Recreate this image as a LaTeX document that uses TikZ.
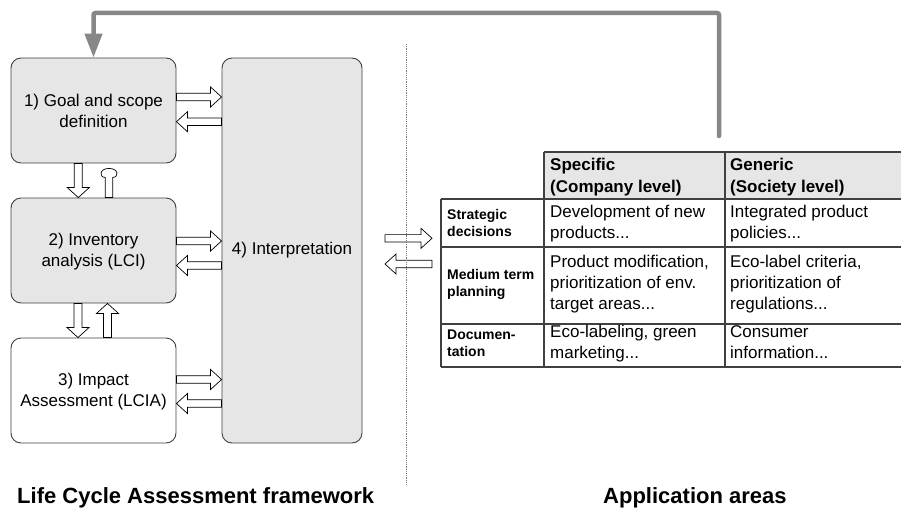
\documentclass[tikz,border=0pt]{standalone}
\usepackage{fontspec}
\setmainfont{Liberation Sans}
\usetikzlibrary{arrows.meta,calc}
\definecolor{boxfill}{HTML}{E6E6E6}
\definecolor{boxline}{HTML}{404040}
\definecolor{fbgray}{HTML}{878787}
\definecolor{dotgray}{HTML}{7A7A7A}
\tikzset{
  stage/.style={draw=boxline, line width=0.9pt, rounded corners=10pt, fill=boxfill,
    minimum width=165pt, minimum height=105pt, align=center,
    font=\fontsize{17}{21}\selectfont, inner sep=0pt},
  blk/.style={draw=black, line width=0.7pt, fill=white, line join=miter},
  cell/.style={anchor=north west, inner sep=0pt, align=left, font=\fontsize{17}{21}\selectfont},
  hcell/.style={cell, font=\bfseries\fontsize{17}{22}\selectfont},
  rcell/.style={cell, font=\bfseries\fontsize{14}{17}\selectfont},
  grid/.style={draw=boxline, line width=1.1pt},
  titletext/.style={anchor=base west, inner sep=0pt, font=\bfseries\fontsize{22}{26}\selectfont},
  fbline/.style={draw=fbgray, line width=4.5pt, line cap=round, rounded corners=2pt,
    -{Triangle[length=24pt,width=17pt]}},
  dotline/.style={draw=dotgray, line width=1pt, dash pattern=on 1.2pt off 1pt},
}
\newcommand{\rblk}[2]{%
  \draw[blk] let \p1=#1, \p2=#2 in (\x1,\y1+3.7pt) -- (\x2-11pt,\y1+3.7pt) -- (\x2-11pt,\y1+10pt)
    -- (\x2,\y1) -- (\x2-11pt,\y1-10pt) -- (\x2-11pt,\y1-3.7pt) -- (\x1,\y1-3.7pt) -- cycle;}
\newcommand{\lblk}[2]{%
  \draw[blk] let \p1=#1, \p2=#2 in (\x1,\y1+3.7pt) -- (\x2+11pt,\y1+3.7pt) -- (\x2+11pt,\y1+10pt)
    -- (\x2,\y1) -- (\x2+11pt,\y1-10pt) -- (\x2+11pt,\y1-3.7pt) -- (\x1,\y1-3.7pt) -- cycle;}
\newcommand{\dblk}[2]{%
  \draw[blk] let \p1=#1, \p2=#2 in (\x1-4pt,\y1) -- (\x1-4pt,\y2+10pt) -- (\x1-11pt,\y2+10pt)
    -- (\x1,\y2) -- (\x1+11pt,\y2+10pt) -- (\x1+4pt,\y2+10pt) -- (\x1+4pt,\y1) -- cycle;}
\newcommand{\ublk}[2]{%
  \draw[blk] let \p1=#1, \p2=#2 in (\x1-4pt,\y1) -- (\x1-4pt,\y2-10pt) -- (\x1-11pt,\y2-10pt)
    -- (\x1,\y2) -- (\x1+11pt,\y2-10pt) -- (\x1+4pt,\y2-10pt) -- (\x1+4pt,\y1) -- cycle;}
\begin{document}
\begin{tikzpicture}[x=1pt,y=-1pt]
\useasboundingbox (0,0) rectangle (901,511);

% stages
\node[stage] (b1) at (93.5,110.5) {\strut 1) Goal and scope\\definition\rule[-2.1pt]{0pt}{0pt}};
\node[stage] (b2) at (93.5,250.5) {\strut 2) Inventory\\analysis (LCI)\rule[-2.1pt]{0pt}{0pt}};
\node[stage, fill=white] (b3) at (93.5,390.5) {\strut 3) Impact\\Assessment (LCIA)\rule[-2.1pt]{0pt}{0pt}};
\node[stage, minimum width=140pt, minimum height=385pt] (b4) at (292,250.5) {4) Interpretation};

% block arrows between stages and interpretation
\rblk{(b1.east |- 0,97)}{(b4.west |- 0,97)}
\lblk{(b4.west |- 0,121.7)}{(b1.east |- 0,121.7)}
\rblk{(b2.east |- 0,241)}{(b4.west |- 0,241)}
\lblk{(b4.west |- 0,265.5)}{(b2.east |- 0,265.5)}
\rblk{(b3.east |- 0,379.5)}{(b4.west |- 0,379.5)}
\lblk{(b4.west |- 0,403.5)}{(b3.east |- 0,403.5)}

% vertical arrows
\dblk{(b1.south -| 78.3,0)}{(b2.north -| 78.3,0)}
\draw[blk] let \p1=(b2.north -| 109,0), \p2=(b1.south -| 109,0) in
  (\x1-3.7pt,\y1) -- (\x1-3.7pt,\y2-14pt)
  .. controls (\x1-10pt,\y2-14pt) and (\x1-10pt,\y2-5pt) .. (\x1,\y2-5pt)
  .. controls (\x1+10pt,\y2-5pt) and (\x1+10pt,\y2-14pt) .. (\x1+3.7pt,\y2-14pt)
  -- (\x1+3.7pt,\y1) -- cycle;
\dblk{(b2.south -| 78,0)}{(b3.north -| 78,0)}
\ublk{(b3.north -| 107.5,0)}{(b2.south -| 107.5,0)}

% arrows towards application areas
\coordinate (al1) at (385,238.3);
\coordinate (ar1) at (432,238.3);
\coordinate (al2) at (385,264);
\coordinate (ar2) at (432,264);
\rblk{(al1)}{(ar1)}
\lblk{(ar2)}{(al2)}

% dotted separator
\coordinate (dtop) at (406.5,44);
\coordinate (dbot) at (406.5,485);
\draw[dotline] (dtop) -- (dbot);

% feedback arrow
\coordinate (fbs) at (719,136);
\draw[fbline] (fbs) -- (719,13) -- (b1.north |- 0,13) -- (b1.north);

% table
\fill[boxfill] (544,152) rectangle (905,199);
\draw[grid] (544,152) -- (905,152);
\draw[grid] (441,199) -- (905,199);
\draw[grid] (441,247) -- (905,247);
\draw[grid] (441,324) -- (905,324);
\draw[grid] (441,367) -- (905,367);
\draw[grid] (441,199) -- (441,367);
\draw[grid] (544,152) -- (544,367);
\draw[grid] (725,152) -- (725,367);

\node[hcell] (hs) at (550,154.6) {\strut Specific\\(Company level)};
\node[hcell] (hg) at (730,154.6) {\strut Generic\\(Society level)};
\node[rcell] (r1) at (447,207.1) {\strut Strategic\\decisions};
\node[cell] (c11) at (550,202.3) {\strut Development of new\\products...};
\node[cell] (c12) at (730,202.3) {\strut Integrated product\\policies...};
\node[rcell] (r2) at (447,267.1) {\strut Medium term\\planning};
\node[cell] (c21) at (550,252.3) {\strut Product modification,\\prioritization of env.\\target areas...};
\node[cell] (c22) at (730,252.3) {\strut Eco-label criteria,\\prioritization of\\regulations...};
\node[rcell] (r3) at (447,327.1) {\strut Documen-\\tation};
\node[cell] (c31) at (550,322.3) {\strut Eco-labeling, green\\marketing...};
\node[cell] (c32) at (730,322.3) {\strut Consumer\\information...};

% titles
\node[titletext] (t1) at (17,503) {Life Cycle Assessment framework};
\node[titletext] (t2) at (603,503) {Application areas};
\end{tikzpicture}
\end{document}
